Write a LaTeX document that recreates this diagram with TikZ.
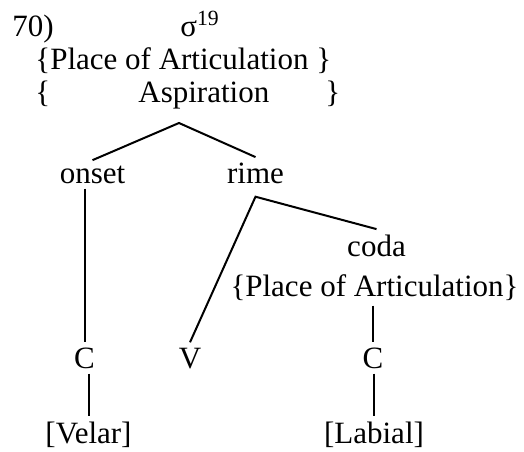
\documentclass[tikz,border=0pt]{standalone}
\usepackage{fontspec}
\setmainfont{Liberation Serif}
\newcommand{\segfont}{\fontsize{15.5}{18}\selectfont}

\begin{document}
\begin{tikzpicture}[x=0.5pt,y=-0.5pt,
  seg/.style={font=\segfont,inner sep=2.5pt,anchor=base},
  hdr/.style={font=\segfont,inner sep=0pt,anchor=base west},
  branch/.style={line width=1pt}]
\useasboundingbox (0,0) rectangle (524,451);
% example number and syllable node
\node[hdr] (num) at (12,36) {70)};
\node[hdr] (sigma) at (180,36) {σ\textsuperscript{19}};
% features of the syllable
\node[hdr] (sigpoa) at (35,69) {\{Place of Articulation \}};
\node[hdr] (lbr) at (35,102) {\{};
\node[hdr] (asp) at (138,102) {Aspiration};
\node[hdr] (rbr) at (325,102) {\}};
% constituents
\node[seg] (onset) at (92.5,183) {onset};
\node[seg] (rime) at (255.5,183) {rime};
\node[seg] (coda) at (376.5,256) {coda};
\node[seg] (codapoa) at (374.5,296) {\{Place of Articulation\}};
% segments and features
\node[seg] (c1) at (84.5,368) {C};
\node[seg] (v) at (190,368) {V};
\node[seg] (c2) at (373,368) {C};
\node[seg] (velar) at (88.5,443) {[Velar]};
\node[seg] (labial) at (374,443) {[Labial]};
% branching
\coordinate (sigtop) at (179,123);
\coordinate (rimetop) at ([yshift=-4pt]rime.south);
\draw[branch] (onset.north) -- (sigtop) -- (rime.north);
\draw[branch] (v.north) -- (rimetop) -- (coda.north);
% association lines
\foreach \a/\b in {onset/c1, c1/velar, codapoa/c2, c2/labial}{
  \draw[branch] (\a.south -| \b) -- (\b.north);}
\end{tikzpicture}
\end{document}
